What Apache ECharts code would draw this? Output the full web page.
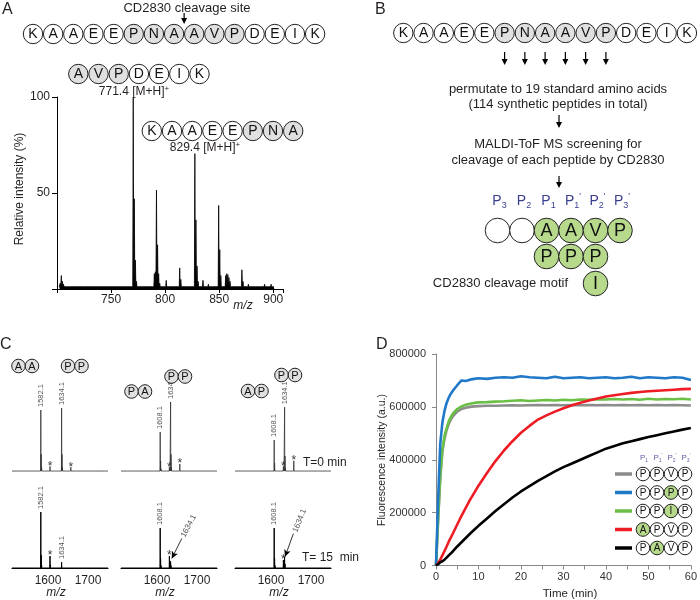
<!DOCTYPE html>
<html>
<head>
<meta charset="utf-8">
<script src="https://cdn.jsdelivr.net/npm/echarts@6.0.0/dist/echarts.min.js"></script>
<style>
html,body{margin:0;padding:0;background:#fff;}
#chart{width:700px;height:600px;}
</style>
</head>
<body>
<div id="chart"></div>
<script>
// ===================== DATA =====================
// ---- Panel A ----
const peptideSeq = ['K','A','A','E','E','P','N','A','A','V','P','D','E','I','K'];
const peptideShaded = [5,6,7,8,9,10];
const fragC = ['A','V','P','D','E','I','K'];
const fragCShaded = [0,1,2];
const fragN = ['K','A','A','E','E','P','N','A'];
const fragNShaded = [5,6,7];
const fragCMass = '771.4';
const fragNMass = '829.4';
// spectrum peaks [m/z, relative intensity %]
const specAPeaks = [
  [703,3],[704,7],[705,4],[706,2.5],[708,2],[712,1.8],[718,2],[725,2.2],[733,1.8],[738,1.6],[746,1.5],[753,2.2],[760,1.5],
  [770.5,100],[771.5,47],[772.5,15],[773.5,4],[780,1.6],
  [790,8],[791,9],[792,51.5],[793,23],[794,8],[795,3],
  [801,4.5],[806,1.5],
  [813.5,11],[814.5,5],[818,2],[822,1.5],
  [827.5,70.5],[828.5,36],[829.5,12],[830.5,4],
  [835,4.5],[840,2.5],[844,1.6],
  [849.5,43.5],[850.5,20.5],[851.5,7],
  [856,7],[857,8],[858,7.5],[859,6],[860,4],[865,1.6],
  [871,10],[872,4],[877,2.5],[880,2],[884,2],[888,1.6],[892,2.5],[895,2],[898,2.5],[900,1.6]
];

// ---- Panel B ----
const motifPositions = [['3',false],['2',false],['1',false],['1',true],['2',true],['3',true]];
const motifRow1 = ['', '', 'A', 'A', 'V', 'P'];
const motifRow2 = [null, null, 'P', 'P', 'P', null];
const motifRow3 = [null, null, null, null, 'I', null];
const textB = ['permutate to 19 standard amino acids', '(114 synthetic peptides in total)',
               'MALDI-ToF MS screening for', 'cleavage of each peptide by CD2830'];

// ---- Panel C ----
const cPeptidesLeft  = [['A','A'], ['P','A'], ['A','P']];
const cPeptidesRight = [['P','P'], ['P','P'], ['P','P']];
const cNoiseTop = [[1518,2.5],[1527,1.8],[1536,3],[1547,2],[1556,2.5],[1566,2],[1574,3],[1592,2.5],[1598,2],[1617,3],[1624,2],[1645,2.5],[1666,2],[1672,3.5],[1684,2],[1694,2.5],[1706,2],[1717,2.5],[1728,2],[1742,2.5]];
const c1Top = [[1582,77.5],[1583,22],[1584,6],[1605,7],[1634,80],[1635,22],[1636,6],[1657,6]];
const c2Top = [[1608,50],[1609,14],[1610,4],[1631,6],[1632,4],[1634,87.5],[1635,22],[1636,6],[1657,10]];
const c3Top = [[1608,40],[1609,11],[1610,3],[1631,7],[1632,4],[1634,81],[1635,20],[1636,5],[1657,14]];
const c1TopLabels = [[1582,77.5,'1582.1'],[1634,80,'1634.1']];
const c2TopLabels = [[1608,50,'1608.1'],[1634,87.5,'1634.1']];
const c3TopLabels = [[1608,40,'1608.1'],[1634,81,'1634.1']];
const c1TopStars = [[1605,7],[1657,6]];
const c2TopStars = [[1631,6],[1657,10]];
const c3TopStars = [[1631,7],[1657,14]];
const c1Bot = [[1567,2],[1582,70],[1583,16],[1584,4],[1605,15],[1606,4],[1634,7.5],[1635,2.5]];
const c2Bot = [[1608,50],[1609,12],[1610,3],[1631,15],[1632,9],[1634,8],[1635,3]];
const c3Bot = [[1608,50],[1609,12],[1610,3],[1631,10],[1632,6],[1634,14],[1635,5]];
const c1BotLabels = [[1582,70,'1582.1'],[1634,7.5,'1634.1']];
const c2BotLabels = [[1608,50,'1608.1']];
const c3BotLabels = [[1608,50,'1608.1']];
const c1BotStars = [[1605,15]];
const c2BotStars = [[1631,15]];
const c3BotStars = [[1631,10]];
const c2BotDiag = [[1665,39,'1634.1']];
const c3BotDiag = [[1660,45,'1634.1']];
const c2BotArrow = [[1637,12],[1662,37]];
const c3BotArrow = [[1635,14],[1656,43]];
const cTickLabels = [1600, 1700];

// ---- Panel D ----
const timeMin = [0,0.5,1,1.5,2,2.5,3,3.5,4,5,6,7,8,9,10,12,14,16,18,20,22,24,26,28,30,32,34,36,38,40,42,44,46,48,50,52,54,56,58,60];
const fluorPPVP = [0,170000,330000,430000,480000,512000,535000,552000,565000,582000,592000,597000,600000,602000,603000,604000,604000,605000,606000,605000,606000,607000,606000,607000,606000,607000,606000,607000,606000,607000,606000,607000,606000,607000,606000,607000,606000,607000,606000,605000];
const fluorPPPP = [0,250000,460000,540000,585000,615000,635000,650000,662000,682000,700000,698000,703000,706000,708000,706000,710000,712000,710000,716000,712000,710000,708000,714000,708000,710000,712000,708000,710000,712000,708000,710000,714000,708000,712000,710000,708000,712000,710000,702000];
const fluorPPIP = [0,180000,340000,440000,490000,520000,545000,562000,575000,592000,602000,608000,612000,615000,617000,618000,620000,621000,623000,625000,622000,624000,626000,624000,627000,625000,628000,627000,629000,628000,630000,628000,630000,627000,631000,628000,630000,629000,631000,628000];
const fluorAPVP = [0,8000,22000,38000,55000,72000,90000,106000,122000,155000,188000,218000,248000,275000,302000,350000,395000,435000,470000,502000,528000,552000,568000,582000,595000,606000,616000,624000,632000,639000,644000,649000,653000,656000,659000,661000,663000,665000,667000,668000];
const fluorPAVP = [0,5000,12000,16000,22000,30000,38000,46000,54000,72000,88000,104000,120000,135000,150000,178000,206000,232000,257000,280000,300000,320000,338000,356000,372000,386000,400000,414000,428000,442000,452000,462000,470000,478000,486000,493000,500000,507000,514000,520000];
const legendSeqs = [['P','P','V','P'],['P','P','P','P'],['P','P','I','P'],['A','P','V','P'],['P','A','V','P']];
const legendHighlight = [-1, 2, 2, 0, 1];
const legendPos = [['1',false],['1',true],['2',true],['3',true]];
const xTicksD = [0,10,20,30,40,50,60];
const yTicksD = [0,200000,400000,600000,800000];

// ===================== STYLE / LAYOUT =====================
const FONT = '"Liberation Sans", Arial, Helvetica, sans-serif';
const DFONT = '"Liberation Sans", Arial, sans-serif';
const SHADE = '#e0e0e0';
const GREEN = '#b6d98c';
const TXT = '#231f20';
const PCOL = '#3b3f8f';
const COLORS = {PPVP:'#8c8c8c', PPPP:'#1f78c8', PPIP:'#6abf45', APVP:'#ee1c24', PAVP:'#000000'};

function stickData(peaks, xmin, xmax, base, w) {
  const s = peaks.slice().sort((a,b)=>a[0]-b[0]);
  const out = [[xmin, base]];
  s.forEach(p => { out.push([p[0]-w, base], [p[0], p[1]], [p[0]+w, base]); });
  out.push([xmax, base]);
  return out;
}

const g = [];
function text(x, y, t, size, opts) {
  opts = opts || {};
  g.push({type:'text', x:x, y:y, rotation: opts.rot || 0, z: 20,
    style:{text:t, font:(opts.italic?'italic ':'') + size + 'px ' + (opts.family || FONT), fill: opts.color || TXT,
      align: opts.align || 'center', verticalAlign: opts.va || 'middle', rich: opts.rich}});
}
function circleLetter(cx, cy, r, letter, fill, fs) {
  g.push({type:'circle', z:10, shape:{cx:cx, cy:cy, r:r}, style:{fill:fill, stroke:'#222', lineWidth:1}});
  if (letter) g.push({type:'text', z:11, x:cx, y:cy+0.5, style:{text:letter, font:fs+'px '+FONT, fill:'#111', align:'center', verticalAlign:'middle'}});
}
function peptideRow(seq, shaded, x0, y, step, r, fs) {
  seq.forEach((L,i)=> circleLetter(x0 + i*step, y, r, L, shaded.indexOf(i) >= 0 ? SHADE : '#fff', fs));
}
function arrowDown(x, y1, y2) {
  g.push({type:'line', z:10, shape:{x1:x, y1:y1, x2:x, y2:y2-4}, style:{stroke:'#000', lineWidth:1.2}});
  g.push({type:'polygon', z:10, shape:{points:[[x-3,y2-6],[x+3,y2-6],[x,y2]]}, style:{fill:'#000'}});
}
function pLabel(x, y, sub, prime, size, color) {
  const t = '{p|P}{s|' + sub + '}' + (prime ? "{q|'}" : '');
  const ss = Math.round(size*0.62);
  g.push({type:'text', z:20, x:x, y:y, style:{text:t, align:'center', verticalAlign:'middle', fill:color, font:size+'px '+FONT,
    rich:{p:{fontSize:size, fontFamily:FONT, fill:color, color:color, lineHeight:size*1.3},
          s:{fontSize:ss, fontFamily:FONT, fill:color, color:color, verticalAlign:'bottom', lineHeight:ss},
          q:{fontSize:ss, fontFamily:FONT, fill:color, color:color, verticalAlign:'top', lineHeight:ss}}}});
}
function massLabel(x, y, mass) {
  g.push({type:'text', z:20, x:x, y:y, style:{text:'{n|' + mass + ' [M+H]}{s|+}', align:'center', verticalAlign:'middle', fill:TXT, font:'12px '+FONT,
    rich:{n:{fontSize:12, fontFamily:FONT, fill:TXT, color:TXT, lineHeight:14}, s:{fontSize:8, fontFamily:FONT, fill:TXT, color:TXT, verticalAlign:'top', lineHeight:8}}}});
}

// ---- Panel A graphics ----
text(2, 10, 'A', 16, {align:'left'});
text(187, 8, 'CD2830 cleavage site', 13);
const aStep = 20.15, aX0 = 33;
arrowDown(aX0 + 7.5*aStep, 13, 24);
peptideRow(peptideSeq, peptideShaded, aX0, 34, aStep, 9.7, 14);
peptideRow(fragC, fragCShaded, 78.3, 74, 20.2, 9.7, 14);
massLabel(134, 91.5, fragCMass);
peptideRow(fragN, fragNShaded, 151.8, 131, 20.2, 9.7, 14);
massLabel(205, 148, fragNMass);
text(20, 189, 'Relative intensity (%)', 12, {rot: Math.PI/2});
text(243, 306, 'm/z', 12, {italic:true});

// ---- Panel B graphics ----
text(375, 10, 'B', 16, {align:'left'});
const bStep = 20.26, bX0 = 403.3;
peptideRow(peptideSeq, peptideShaded, bX0, 33, bStep, 9.7, 14);
peptideShaded.forEach(i => arrowDown(bX0 + i*bStep, 52, 65));
text(558, 89, textB[0], 13);
text(558, 104, textB[1], 13);
arrowDown(559, 115, 128);
text(558, 144, textB[2], 13);
text(558, 160, textB[3], 13);
arrowDown(559, 176, 188);
const mX0 = 497.5, mStep = 24.5, mR = 12.3;
motifPositions.forEach((p,i) => pLabel(mX0 + i*mStep + 2, 201, p[0], p[1], 14, PCOL));
motifRow1.forEach((L,i) => circleLetter(mX0 + i*mStep, 230.5, mR, L, L ? GREEN : '#fff', 18));
motifRow2.forEach((L,i) => { if (L) circleLetter(mX0 + i*mStep, 256.5, mR, L, GREEN, 18); });
motifRow3.forEach((L,i) => { if (L) circleLetter(mX0 + i*mStep, 283.5, mR, L, GREEN, 18); });
text(568, 283, 'CD2830 cleavage motif', 13, {align:'right'});

// ---- Panel C graphics ----
text(0, 345, 'C', 16, {align:'left'});
const cLeftPos = [[18.5,366],[131.5,391.5],[248,391]];
const cRightPos = [[68,366],[171.5,376.5],[281.5,375]];
cPeptidesLeft.forEach((pp,k) => pp.forEach((L,i) => circleLetter(cLeftPos[k][0] + i*13.5, cLeftPos[k][1], 6.8, L, SHADE, 11)));
cPeptidesRight.forEach((pp,k) => pp.forEach((L,i) => circleLetter(cRightPos[k][0] + i*13.5, cRightPos[k][1], 6.8, L, SHADE, 11)));
text(303, 463, 'T=0 min', 12, {align:'left'});
text(302, 558, 'T= 15  min', 12, {align:'left'});
[56, 165, 279].forEach(x => text(x, 593, 'm/z', 12, {italic:true}));

// ---- Panel D graphics ----
text(376, 345, 'D', 16, {align:'left'});
text(382, 460, 'Fluorescence intensity (a.u.)', 10.5, {rot: Math.PI/2, family: DFONT});
text(570, 594, 'Time (min)', 11.5, {family: DFONT});
const lgX = [643, 657, 671, 685], lgY = [474, 492.5, 511, 529.5, 548];
legendPos.forEach((p,i) => pLabel(lgX[i] + 1, 458, p[0], p[1], 8, '#5b5ea6'));
const lgColors = [COLORS.PPVP, COLORS.PPPP, COLORS.PPIP, COLORS.APVP, COLORS.PAVP];
legendSeqs.forEach((seq,row) => {
  g.push({type:'line', z:10, shape:{x1:615, y1:lgY[row], x2:632, y2:lgY[row]}, style:{stroke:lgColors[row], lineWidth:3.5}});
  seq.forEach((L,i) => circleLetter(lgX[i], lgY[row], 6.8, L, legendHighlight[row] === i ? GREEN : '#fff', 10));
});

// ===================== CHART =====================
const grids = [
  {left:57, top:97, width:226, height:192},
  {left:12, top:392, width:96, height:80},
  {left:121, top:392, width:96, height:80},
  {left:235, top:392, width:96, height:80},
  {left:12, top:488, width:96, height:80},
  {left:121, top:488, width:96, height:80},
  {left:235, top:488, width:96, height:80},
  {left:436, top:354, width:259, height:211.5}
];

const xAxes = [
  {gridIndex:0, type:'value', min:700, max:909, interval:50,
   axisLine:{lineStyle:{color:'#000', width:1}}, axisTick:{length:4, lineStyle:{color:'#000'}},
   splitLine:{show:false},
   axisLabel:{formatter: v => (v > 700 && v % 50 === 0) ? String(v) : '', fontSize:12, color:TXT, margin:5, fontFamily:FONT}}
];
for (let i = 0; i < 3; i++) xAxes.push({gridIndex:1+i, type:'value', min:1510, max:1750, show:false});
for (let i = 0; i < 3; i++) xAxes.push({gridIndex:4+i, type:'value', min:1510, max:1750, interval:10,
   axisLine:{lineStyle:{color:'#000', width:1.2}}, axisTick:{show:false}, splitLine:{show:false},
   axisLabel:{formatter: v => cTickLabels.indexOf(v) >= 0 ? String(v) : '', fontSize:12, color:TXT, margin:7, fontFamily:FONT}});
xAxes.push({gridIndex:7, type:'value', min:0, max:60, interval:5,
   axisLine:{lineStyle:{color:'#888'}}, axisTick:{length:4, lineStyle:{color:'#888'}}, splitLine:{show:false},
   axisLabel:{formatter: v => xTicksD.indexOf(v) >= 0 ? String(v) : '', fontSize:11, color:'#333', margin:6, fontFamily:DFONT}});

const yAxes = [
  {gridIndex:0, type:'value', min:0, max:100, interval:50,
   axisLine:{show:true, lineStyle:{color:'#000'}}, axisTick:{show:true, length:5, lineStyle:{color:'#000'}},
   splitLine:{show:false},
   axisLabel:{formatter: v => v === 0 ? '' : String(v), fontSize:12, color:TXT, margin:7, fontFamily:FONT}}
];
for (let i = 0; i < 6; i++) yAxes.push({gridIndex:1+i, type:'value', min:0, max:100, show:false});
yAxes.push({gridIndex:7, type:'value', min:0, max:800000, interval:200000,
   axisLine:{show:true, lineStyle:{color:'#888'}}, axisTick:{show:true, length:4, lineStyle:{color:'#888'}},
   splitLine:{show:false},
   axisLabel:{formatter: v => yTicksD.indexOf(v) >= 0 ? String(v) : '', fontSize:11, color:'#333', margin:10, fontFamily:DFONT}});

const series = [];
series.push({type:'line', xAxisIndex:0, yAxisIndex:0, data: stickData(specAPeaks, 702, 901, 1.2, 0.45),
  showSymbol:false, lineStyle:{color:'#000', width:0.8}, areaStyle:{color:'#000', opacity:1}, silent:true});

const topPeaks = [c1Top, c2Top, c3Top], topLabels = [c1TopLabels, c2TopLabels, c3TopLabels], topStars = [c1TopStars, c2TopStars, c3TopStars];
const botPeaks = [c1Bot, c2Bot, c3Bot], botLabels = [c1BotLabels, c2BotLabels, c3BotLabels], botStars = [c1BotStars, c2BotStars, c3BotStars];
const botDiag = [null, c2BotDiag, c3BotDiag], botArrow = [null, c2BotArrow, c3BotArrow];
const diagRot = [0, 62, 68];

function labelSeries(idx, labels) {
  return {type:'scatter', xAxisIndex:idx, yAxisIndex:idx, symbolSize:0, silent:true,
    data: labels.map(l => ({value:[l[0], l[1]], name:l[2]})),
    label:{show:true, formatter:'{b}', position:'top', distance:3, rotate:90, align:'left', verticalAlign:'middle', fontSize:7.5, color:TXT, fontFamily:FONT}};
}
function starSeries(idx, stars) {
  return {type:'scatter', xAxisIndex:idx, yAxisIndex:idx, symbolSize:0, silent:true,
    data: stars.map(s => [s[0], s[1]]),
    label:{show:true, formatter:'*', position:'top', distance:-6, fontSize:12, color:'#000', fontFamily:FONT}};
}
for (let k = 0; k < 3; k++) {
  const ti = 1 + k, bi = 4 + k;
  series.push({type:'line', xAxisIndex:ti, yAxisIndex:ti, data: stickData(cNoiseTop.concat(topPeaks[k]), 1510, 1750, 1.2, 0.5),
    showSymbol:false, lineStyle:{color:'#333', width:0.8}, silent:true});
  series.push(labelSeries(ti, topLabels[k]));
  series.push(starSeries(ti, topStars[k]));
  const bs = {type:'line', xAxisIndex:bi, yAxisIndex:bi, data: stickData(botPeaks[k], 1510, 1750, 0, 0.5),
    showSymbol:false, lineStyle:{color:'#000', width:1}, silent:true};
  if (botArrow[k]) {
    bs.markLine = {silent:true, symbol:['arrow','none'], symbolSize:[5,7], animation:false,
      lineStyle:{color:'#000', width:0.8, type:'solid'}, label:{show:false},
      data:[[{coord:botArrow[k][0]}, {coord:botArrow[k][1]}]]};
  }
  series.push(bs);
  series.push(labelSeries(bi, botLabels[k]));
  series.push(starSeries(bi, botStars[k]));
  if (botDiag[k]) {
    series.push({type:'scatter', xAxisIndex:bi, yAxisIndex:bi, symbolSize:0, silent:true,
      data: botDiag[k].map(l => ({value:[l[0], l[1]], name:l[2]})),
      label:{show:true, formatter:'{b}', position:[0,0], rotate:diagRot[k], align:'left', verticalAlign:'middle', fontSize:8, color:TXT, fontFamily:FONT}});
  }
}

const dSeries = [['PPVP', fluorPPVP], ['PPIP', fluorPPIP], ['PPPP', fluorPPPP], ['APVP', fluorAPVP], ['PAVP', fluorPAVP]];
dSeries.forEach(([name, arr]) => {
  series.push({type:'line', name:name, xAxisIndex:7, yAxisIndex:7, showSymbol:false,
    data: timeMin.map((t,i) => [t, arr[i]]), lineStyle:{color:COLORS[name], width:2.6}, itemStyle:{color:COLORS[name]}});
});

const chart = echarts.init(document.getElementById('chart'), null, {renderer:'canvas'});
chart.setOption({
  animation:false,
  backgroundColor:'#fff',
  grid: grids,
  xAxis: xAxes,
  yAxis: yAxes,
  series: series,
  graphic: {elements: g}
});
</script>
</body>
</html>
